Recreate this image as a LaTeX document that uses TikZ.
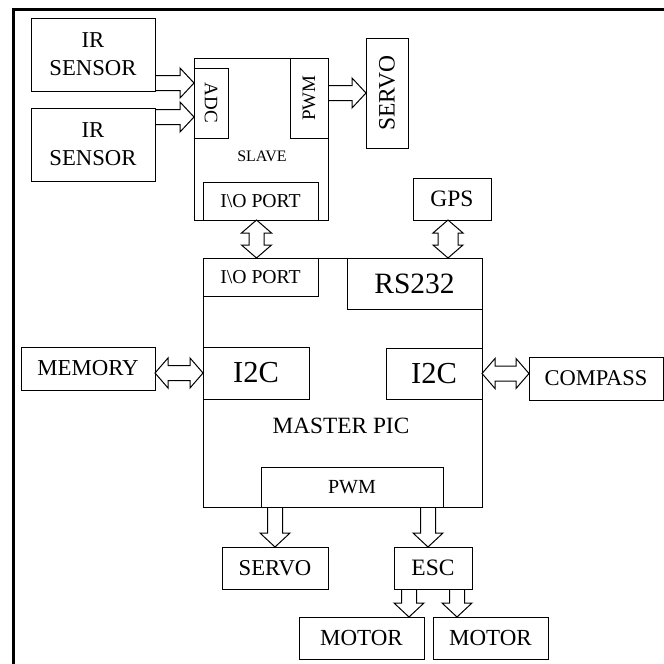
\documentclass[tikz,border=0pt]{standalone}
\usepackage{fontspec}
\setmainfont{Liberation Serif}
\usetikzlibrary{calc}
\newcommand\fs[1]{\fontsize{#1}{28}\selectfont}
\tikzset{
  box/.style={draw, line width=1pt, inner sep=0pt, outer sep=0pt, anchor=north west, align=center},
  blk/.style={draw, line width=1pt, line join=miter},
}
% single block arrow from #1 to #2
\newcommand\sarrow[2]{%
  \coordinate (hb) at ($(#2)!14pt!(#1)$);
  \draw[blk] ($(#1)!7.5pt!90:(#2)$) -- ($(hb)!7.5pt!-90:(#1)$) -- ($(hb)!15pt!-90:(#1)$) -- (#2)
     -- ($(hb)!15pt!90:(#1)$) -- ($(hb)!7.5pt!90:(#1)$) -- ($(#1)!7.5pt!-90:(#2)$);
}
% double block arrow between #2 and #3, body half width #1
\newcommand\darrow[3][7.5pt]{%
  \coordinate (ha) at ($(#2)!13pt!(#3)$);
  \coordinate (hc) at ($(#3)!13pt!(#2)$);
  \draw[blk] (#2) -- ($(ha)!15pt!90:(#3)$) -- ($(ha)!#1!90:(#3)$) -- ($(hc)!#1!-90:(#2)$)
     -- ($(hc)!15pt!-90:(#2)$) -- (#3) -- ($(hc)!15pt!90:(#2)$) -- ($(hc)!#1!90:(#2)$)
     -- ($(ha)!#1!-90:(#3)$) -- ($(ha)!15pt!-90:(#3)$) -- cycle;
}
\begin{document}
\begin{tikzpicture}[x=1pt,y=-1pt]
\useasboundingbox (0,0) rectangle (664,664);
% frame
\coordinate (fbl) at (13,664);
\coordinate (ftl) at (13,9.5);
\coordinate (ftr) at (664,9.5);
\draw[line width=3pt] (fbl) -- (ftl) -- (ftr);

% slave side
\node[box, minimum width=124, minimum height=73, font=\fs{22.7}] (ir1) at (31,18) {IR\\SENSOR};
\node[box, minimum width=124, minimum height=73, font=\fs{22.7}] (ir2) at (31,108) {IR\\SENSOR};
\node[box, minimum width=134, minimum height=162] (slave) at (194,58) {};
\node[font=\fs{16}] (slavet) at (262,156) {SLAVE};
\node[box, minimum width=34, minimum height=70] (adc) at (194,68) {};
\node[rotate=-90, font=\fs{19}] (adct) at (adc.center) {ADC};
\node[box, minimum width=38, minimum height=80] (spwm) at (290,58) {};
\node[rotate=90, font=\fs{19}] (spwmt) at (spwm.center) {PWM};
\node[box, minimum width=115, minimum height=38, font=\fs{19.7}] (sio) at (203,182) {I\textbackslash O PORT};
\node[box, minimum width=42, minimum height=110] (servo1) at (366,38) {};
\node[rotate=90, font=\fs{23.5}] (servo1t) at (servo1.center) {SERVO};

% master side
\node[box, minimum width=78, minimum height=42, font=\fs{23.5}] (gps) at (413,178) {GPS};
\node[box, minimum width=279, minimum height=249] (master) at (203,258) {};
\node[font=\fs{23.3}] (mastert) at (341,426) {MASTER PIC};
\node[box, minimum width=115, minimum height=38, font=\fs{19.7}] (mio) at (203,258) {I\textbackslash O PORT};
\node[box, minimum width=135, minimum height=51, font=\fs{29.5}] (rs232) at (347,258) {RS232};
\node[box, minimum width=106, minimum height=52, font=\fs{30.5}] (i2cl) at (203,347) {I2C};
\node[box, minimum width=96, minimum height=51, font=\fs{30.5}] (i2cr) at (386,348) {I2C};
\node[box, minimum width=134, minimum height=43, font=\fs{22.8}] (memory) at (21,347) {MEMORY};
\node[box, minimum width=134, minimum height=43, font=\fs{22.5}] (compass) at (529,357) {COMPASS};
\node[box, minimum width=182, minimum height=40, font=\fs{20}] (mpwm) at (261,467) {PWM};
\node[box, minimum width=106, minimum height=42, font=\fs{22.7}] (servo2) at (222,547) {SERVO};
\node[box, minimum width=78, minimum height=42, font=\fs{23.5}] (esc) at (394,547) {ESC};
\node[box, minimum width=125, minimum height=42, font=\fs{23}] (motor1) at (299,617) {MOTOR};
\node[box, minimum width=115, minimum height=42, font=\fs{23}] (motor2) at (433,617) {MOTOR};

% connectors
\coordinate (a1s) at ($(ir1.south east)+(0,-8)$);
\coordinate (a1e) at (slave.west |- a1s);
\sarrow{a1s}{a1e}
\coordinate (a2s) at ($(ir2.north east)+(0,9)$);
\coordinate (a2e) at (slave.west |- a2s);
\sarrow{a2s}{a2e}
\coordinate (a3s) at ($(spwm.north east)+(0,35)$);
\coordinate (a3e) at (servo1.west |- a3s);
\sarrow{a3s}{a3e}
\coordinate (d1s) at ($(sio.south)+(-4,0)$);
\coordinate (d1e) at (d1s |- mio.north);
\darrow{d1s}{d1e}
\coordinate (d2s) at ($(gps.south)+(-4,0)$);
\coordinate (d2e) at (d2s |- rs232.north);
\darrow[10pt]{d2s}{d2e}
\coordinate (d3e) at (memory.east |- i2cl.west);
\darrow{d3e}{i2cl.west}
\coordinate (d4e) at (compass.west |- i2cr.east);
\darrow{i2cr.east}{d4e}
\coordinate (b1s) at (servo2.north |- mpwm.south);
\sarrow{b1s}{servo2.north}
\coordinate (b2e) at ($(esc.north)+(-5,0)$);
\coordinate (b2s) at (b2e |- mpwm.south);
\sarrow{b2s}{b2e}
\coordinate (b3s) at ($(esc.south west)+(15,0)$);
\coordinate (b3e) at (b3s |- motor1.north);
\sarrow{b3s}{b3e}
\coordinate (b4s) at ($(esc.south east)+(-15,0)$);
\coordinate (b4e) at (b4s |- motor2.north);
\sarrow{b4s}{b4e}
\end{tikzpicture}
\end{document}
